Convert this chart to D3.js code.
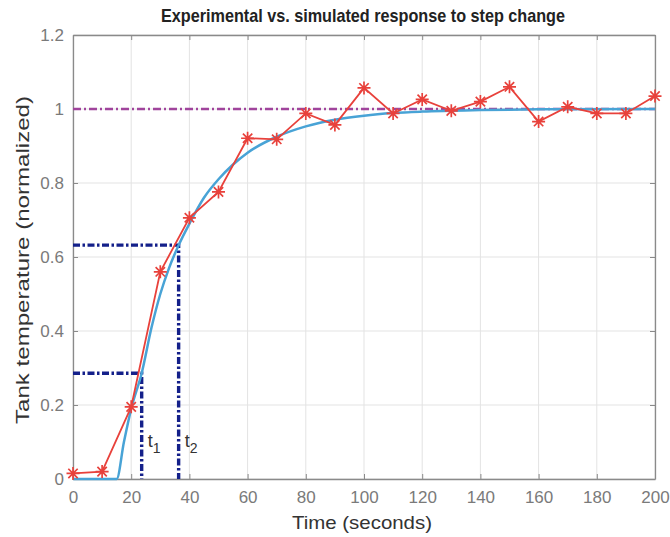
<!DOCTYPE html>
<html>
<head>
<meta charset="utf-8">
<script src="https://cdn.jsdelivr.net/npm/d3@7"></script>
<style>
  body { margin: 0; background: #fff; }
  text { font-family: "Liberation Sans", Arial, sans-serif; }
</style>
</head>
<body>
<div id="chart"></div>
<script>
// measured response (red stars)
var expTime = [0, 10, 20, 30, 40, 50, 60, 70, 80, 90, 100, 110, 120, 130, 140, 150, 160, 170, 180, 190, 200];
var expTemp = [0.015, 0.02, 0.195, 0.56, 0.706, 0.776, 0.921, 0.918, 0.988, 0.957, 1.057, 0.988, 1.026, 0.995, 1.02, 1.06, 0.966, 1.006, 0.988, 0.988, 1.035];

// simulated response (blue)
var simTime = [0, 15, 17.5, 20, 23.6, 27, 30, 33, 36.3, 40, 45, 50, 55, 60, 70, 80, 90, 100, 110, 120, 140, 160, 200];
var simTemp = [0, 0, 0.1, 0.19, 0.286, 0.41, 0.5, 0.57, 0.632, 0.69, 0.76, 0.81, 0.85, 0.882, 0.925, 0.953, 0.971, 0.982, 0.989, 0.993, 0.997, 0.999, 1.0];

// t1 / t2 construction
var markTime = [23.6, 36.3];
var markLevel = [0.286, 0.632];
var markName = ["1", "2"];
var steadyLevel = 1;

var xTicks = [0, 20, 40, 60, 80, 100, 120, 140, 160, 180, 200];
var yTicks = [0, 0.2, 0.4, 0.6, 0.8, 1, 1.2];

var width = 670, height = 537;
var margin = { left: 73, right: 15, top: 35, bottom: 58 };

var svg = d3.select("#chart").append("svg")
    .attr("width", width)
    .attr("height", height);

var x = d3.scaleLinear().domain([0, 200]).range([margin.left, width - margin.right]);
var y = d3.scaleLinear().domain([0, 1.2]).range([height - margin.bottom, margin.top]);

// grid
svg.append("g").selectAll("line").data(xTicks).enter().append("line")
    .attr("x1", d => x(d)).attr("x2", d => x(d))
    .attr("y1", y(0)).attr("y2", y(1.2))
    .attr("stroke", "#e3e3e3").attr("stroke-width", 1);
svg.append("g").selectAll("line").data(yTicks).enter().append("line")
    .attr("x1", x(0)).attr("x2", x(200))
    .attr("y1", d => y(d)).attr("y2", d => y(d))
    .attr("stroke", "#e3e3e3").attr("stroke-width", 1);

// axes (ticks inward)
var xAxis = svg.append("g")
    .attr("transform", "translate(0," + y(0) + ")")
    .call(d3.axisBottom(x).tickValues(xTicks).tickSizeInner(-5).tickSizeOuter(0).tickPadding(12).tickFormat(d3.format("d")));
var yAxis = svg.append("g")
    .attr("transform", "translate(" + x(0) + ",0)")
    .call(d3.axisLeft(y).tickValues(yTicks).tickSizeInner(-5).tickSizeOuter(0).tickPadding(9).tickFormat(d => d));
var xTop = svg.append("g")
    .attr("transform", "translate(0," + y(1.2) + ")")
    .call(d3.axisTop(x).tickValues(xTicks).tickSizeInner(-5).tickSizeOuter(0).tickFormat(""));
var yRight = svg.append("g")
    .attr("transform", "translate(" + x(200) + ",0)")
    .call(d3.axisRight(y).tickValues(yTicks).tickSizeInner(-5).tickSizeOuter(0).tickFormat(""));

[xAxis, yAxis, xTop, yRight].forEach(function (a) {
    a.select(".domain").attr("stroke", "#8a8a8a").attr("stroke-width", 1.3);
    a.selectAll(".tick line").attr("stroke", "#8a8a8a");
    a.selectAll(".tick text").attr("fill", "#7a7a7a").style("font-size", "17px")
        .style("font-family", "'Liberation Sans', Arial, sans-serif");
});

// steady state line
svg.append("line")
    .attr("x1", x(0)).attr("x2", x(200))
    .attr("y1", y(steadyLevel)).attr("y2", y(steadyLevel))
    .attr("stroke", "#a0449c").attr("stroke-width", 2.4)
    .attr("stroke-dasharray", "8,3,2,3");

// t1 / t2 dash-dot guides
markTime.forEach(function (t, i) {
    var path = d3.path();
    path.moveTo(x(0), y(markLevel[i]));
    path.lineTo(x(t), y(markLevel[i]));
    path.lineTo(x(t), y(0));
    svg.append("path")
        .attr("d", path.toString())
        .attr("fill", "none")
        .attr("stroke", "#14208a").attr("stroke-width", 3.4)
        .attr("stroke-dasharray", "7,2.5,2.5,2.5");
    var lbl = svg.append("text")
        .attr("x", x(t) + 6).attr("y", y(0) - 32)
        .attr("fill", "#333").style("font-size", "18px")
        .text("t");
    lbl.append("tspan").attr("dy", 6).style("font-size", "14px").text(markName[i]);
});

// simulated
var simData = simTime.map((t, i) => [t, simTemp[i]]);
svg.append("path")
    .datum(simData)
    .attr("fill", "none")
    .attr("stroke", "#48a3d6").attr("stroke-width", 2.5)
    .attr("d", d3.line().x(d => x(d[0])).y(d => y(d[1])).curve(d3.curveMonotoneX));

// experimental
var expData = expTime.map((t, i) => [t, expTemp[i]]);
svg.append("path")
    .datum(expData)
    .attr("fill", "none")
    .attr("stroke", "#e8413b").attr("stroke-width", 1.8)
    .attr("d", d3.line().x(d => x(d[0])).y(d => y(d[1])));

var r = 6.5, rd = r * 0.72;
var star = "M" + (-r) + ",0L" + r + ",0M0," + (-r) + "L0," + r +
    "M" + (-rd) + "," + (-rd) + "L" + rd + "," + rd +
    "M" + (-rd) + "," + rd + "L" + rd + "," + (-rd);
svg.append("g").selectAll("path").data(expData).enter().append("path")
    .attr("transform", d => "translate(" + x(d[0]) + "," + y(d[1]) + ")")
    .attr("d", star)
    .attr("fill", "none")
    .attr("stroke", "#e8413b").attr("stroke-width", 1.7);

// title and labels
svg.append("text")
    .attr("x", 363).attr("y", 22)
    .attr("text-anchor", "middle")
    .attr("fill", "#222")
    .attr("textLength", 404).attr("lengthAdjust", "spacingAndGlyphs")
    .style("font-size", "19px").style("font-weight", "bold")
    .text("Experimental vs. simulated response to step change");

svg.append("text")
    .attr("x", 362).attr("y", 529)
    .attr("text-anchor", "middle")
    .attr("fill", "#333").style("font-size", "19px")
    .attr("textLength", 140).attr("lengthAdjust", "spacingAndGlyphs")
    .text("Time (seconds)");

svg.append("text")
    .attr("transform", "translate(29,260) rotate(-90)")
    .attr("text-anchor", "middle")
    .attr("fill", "#333").style("font-size", "18px")
    .attr("textLength", 328).attr("lengthAdjust", "spacingAndGlyphs")
    .text("Tank temperature (normalized)");
</script>
</body>
</html>
